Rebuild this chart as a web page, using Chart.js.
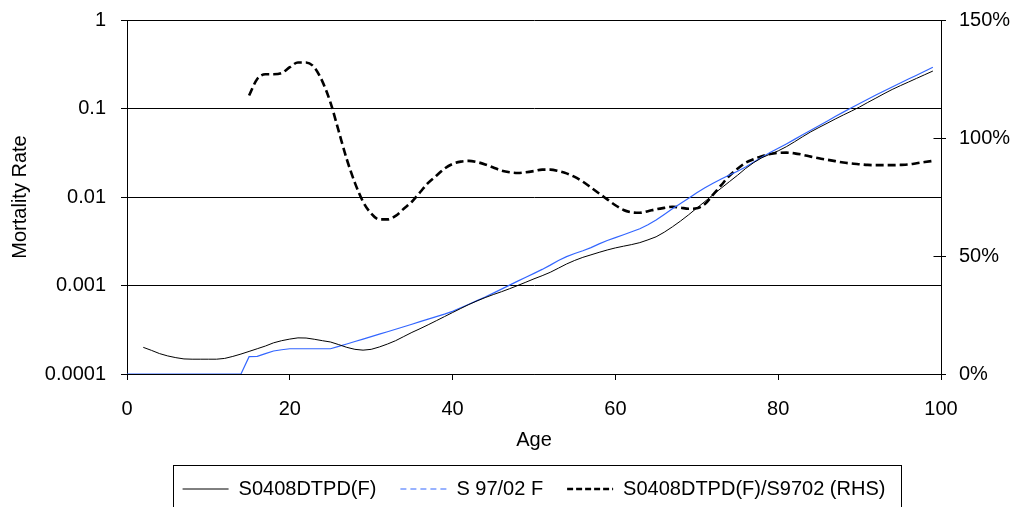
<!DOCTYPE html>
<html>
<head>
<meta charset="utf-8">
<script src="https://cdn.jsdelivr.net/npm/chart.js@4"></script>
<style>
  html, body { margin: 0; padding: 0; background: #fff; }
  #wrap { width: 1019px; height: 507px; overflow: hidden; }
</style>
</head>
<body>
<div id="wrap"><canvas id="mortalityChart" width="1019" height="507"></canvas></div>
<script>
// ages on the x axis
const ages = [
  0, 1, 2, 3, 4, 5, 6, 7, 8, 9, 10, 11, 12, 13, 14, 15, 16, 17, 18, 19,
  20, 21, 22, 23, 24, 25, 26, 27, 28, 29, 30, 31, 32, 33, 34, 35, 36, 37, 38, 39,
  40, 41, 42, 43, 44, 45, 46, 47, 48, 49, 50, 51, 52, 53, 54, 55, 56, 57, 58, 59,
  60, 61, 62, 63, 64, 65, 66, 67, 68, 69, 70, 71, 72, 73, 74, 75, 76, 77, 78, 79,
  80, 81, 82, 83, 84, 85, 86, 87, 88, 89, 90, 91, 92, 93, 94, 95, 96, 97, 98, 99
];

// S0408DTPD(F) mortality rate (left axis)
const dtpdRates = [
  null, null, 2.0e-4, 1.85e-4, 1.7e-4, 1.6e-4, 1.53e-4, 1.48e-4, 1.47e-4, 1.47e-4,
  1.47e-4, 1.47e-4, 1.5e-4, 1.58e-4, 1.68e-4, 1.8e-4, 1.93e-4, 2.07e-4, 2.25e-4, 2.38e-4,
  2.48e-4, 2.56e-4, 2.55e-4, 2.47e-4, 2.38e-4, 2.3e-4, 2.15e-4, 2.0e-4, 1.9e-4, 1.86e-4,
  1.9e-4, 2.02e-4, 2.18e-4, 2.38e-4, 2.65e-4, 2.95e-4, 3.25e-4, 3.6e-4, 4.0e-4, 4.45e-4,
  4.95e-4, 5.5e-4, 6.1e-4, 6.7e-4, 7.3e-4, 7.9e-4, 8.5e-4, 9.2e-4, 1.0e-3, 1.09e-3,
  1.19e-3, 1.29e-3, 1.41e-3, 1.57e-3, 1.75e-3, 1.92e-3, 2.08e-3, 2.22e-3, 2.37e-3, 2.52e-3,
  2.66e-3, 2.78e-3, 2.9e-3, 3.05e-3, 3.28e-3, 3.55e-3, 4.0e-3, 4.6e-3, 5.35e-3, 6.3e-3,
  7.5e-3, 8.9e-3, 1.06e-2, 1.26e-2, 1.49e-2, 1.76e-2, 2.1e-2, 2.45e-2, 2.78e-2, 3.05e-2,
  3.32e-2, 3.7e-2, 4.2e-2, 4.8e-2, 5.45e-2, 6.1e-2, 6.8e-2, 7.6e-2, 8.45e-2, 9.35e-2,
  0.104, 0.117, 0.131, 0.147, 0.164, 0.181, 0.199, 0.219, 0.241, 0.265
];

// S 97/02 F mortality rate (left axis)
const s9702Rates = [
  1e-4, 1e-4, 1e-4, 1e-4, 1e-4, 1e-4, 1e-4, 1e-4, 1e-4, 1e-4,
  1e-4, 1e-4, 1e-4, 1e-4, 1e-4, 1.57e-4, 1.58e-4, 1.7e-4, 1.82e-4, 1.88e-4,
  1.93e-4, 1.93e-4, 1.93e-4, 1.93e-4, 1.93e-4, 1.93e-4, 2.05e-4, 2.18e-4, 2.33e-4, 2.48e-4,
  2.64e-4, 2.82e-4, 3.0e-4, 3.2e-4, 3.42e-4, 3.65e-4, 3.9e-4, 4.17e-4, 4.45e-4, 4.75e-4,
  5.1e-4, 5.6e-4, 6.15e-4, 6.75e-4, 7.4e-4, 8.2e-4, 9.1e-4, 1.01e-3, 1.12e-3, 1.24e-3,
  1.37e-3, 1.52e-3, 1.7e-3, 1.92e-3, 2.12e-3, 2.3e-3, 2.47e-3, 2.68e-3, 2.95e-3, 3.22e-3,
  3.48e-3, 3.75e-3, 4.05e-3, 4.38e-3, 4.85e-3, 5.5e-3, 6.35e-3, 7.35e-3, 8.45e-3, 9.7e-3,
  1.12e-2, 1.27e-2, 1.43e-2, 1.6e-2, 1.77e-2, 1.95e-2, 2.18e-2, 2.48e-2, 2.82e-2, 3.18e-2,
  3.55e-2, 3.98e-2, 4.48e-2, 5.05e-2, 5.68e-2, 6.38e-2, 7.18e-2, 8.1e-2, 9.1e-2, 0.102,
  0.114, 0.127, 0.142, 0.158, 0.175, 0.194, 0.215, 0.238, 0.264, 0.293
];

// S0408DTPD(F)/S9702 ratio in % (right axis)
const ratioPct = [
  null, null, null, null, null, null, null, null, null, null,
  null, null, null, null, null, 118, 125, 127, 127, 127.5,
  130, 132, 132, 130, 124, 115, 103, 91, 81, 73,
  68, 65.5, 65.5, 67, 70, 73, 77, 81, 84, 87,
  89, 90, 90.3, 89.8, 88.8, 87.5, 86.2, 85.5, 85.2, 85.5,
  86, 86.6, 86.6, 86, 85, 83.5, 81.5, 79, 76.5, 74,
  71.5, 69.5, 68.5, 68.3, 69, 69.8, 70.4, 70.9, 70.5, 70,
  70.2, 72, 76, 80, 84, 87, 89.5, 91, 92.3, 93.2,
  93.7, 93.8, 93.5, 92.9, 92.1, 91.4, 90.8, 90.2, 89.6, 89.2,
  88.9, 88.6, 88.5, 88.5, 88.5, 88.6, 88.8, 89.3, 89.8, 90.3
];

const leftTicks = [0.0001, 0.001, 0.01, 0.1, 1];
const rightTicks = [0, 50, 100, 150];
const ageTicks = [0, 20, 40, 60, 80, 100];

const seriesNames = ['S0408DTPD(F)', 'S 97/02 F', 'S0408DTPD(F)/S9702 (RHS)'];

function toPoints(values) {
  return ages.map((a, i) => ({ x: a, y: values[i] }));
}

Chart.defaults.font.family = "'Liberation Sans', Arial, sans-serif";
Chart.defaults.font.size = 20;
Chart.defaults.color = '#000';

// box drawn round the legend items, like the original
const legendFrame = {
  id: 'legendFrame',
  afterDraw(chart) {
    const boxes = chart.legend && chart.legend.legendHitBoxes;
    if (!boxes || !boxes.length) return;
    const left = Math.min(...boxes.map(b => b.left)) - 10;
    const right = Math.max(...boxes.map(b => b.left + b.width)) + 15;
    const top = boxes[0].top - 14;
    const ctx = chart.ctx;
    ctx.save();
    ctx.strokeStyle = '#000';
    ctx.lineWidth = 1;
    ctx.strokeRect(Math.round(left) + 0.5, Math.round(top) + 0.5, Math.round(right - left), chart.height);
    ctx.restore();
  }
};

// right axis tick marks cross the axis line (inner part)
const crossTicks = {
  id: 'crossTicks',
  afterDraw(chart) {
    const s = chart.scales.y1;
    const ctx = chart.ctx;
    const x = Math.round(s.left) + 0.5;
    ctx.save();
    ctx.strokeStyle = '#000';
    ctx.lineWidth = 1;
    ctx.beginPath();
    rightTicks.forEach(v => {
      const y = Math.round(s.getPixelForValue(v)) + 0.5;
      ctx.moveTo(x - 8, y);
      ctx.lineTo(x, y);
    });
    ctx.stroke();
    ctx.restore();
  }
};

// keep tick label overflow from pushing the plot area around
function noOverflow(s) {
  s.paddingTop = 0;
  s.paddingBottom = 0;
}

const ctx = document.getElementById('mortalityChart').getContext('2d');

new Chart(ctx, {
  type: 'line',
  data: {
    datasets: [
      {
        label: seriesNames[0],
        data: toPoints(dtpdRates),
        yAxisID: 'y',
        borderColor: '#000',
        borderWidth: 1,
        pointRadius: 0,
        tension: 0,
        spanGaps: false
      },
      {
        label: seriesNames[1],
        data: toPoints(s9702Rates),
        yAxisID: 'y',
        borderColor: '#3366ff',
        borderWidth: 1.2,
        pointRadius: 0,
        tension: 0
      },
      {
        label: seriesNames[2],
        data: toPoints(ratioPct),
        yAxisID: 'y1',
        borderColor: '#000',
        borderWidth: 2.6,
        borderDash: [8, 4],
        pointRadius: 0,
        cubicInterpolationMode: 'monotone',
        spanGaps: false
      }
    ]
  },
  options: {
    responsive: false,
    animation: false,
    layout: { padding: { top: 20, left: 0, right: 0, bottom: -2 } },
    plugins: {
      tooltip: { enabled: false },
      legend: {
        position: 'bottom',
        fullSize: false,
        labels: {
          usePointStyle: true,
          pointStyle: 'line',
          pointStyleWidth: 46,
          padding: 24,
          font: { size: 20 },
          generateLabels(chart) {
            const items = Chart.defaults.plugins.legend.labels.generateLabels(chart);
            items.forEach((it, i) => {
              it.pointStyle = 'line';
              it.fillStyle = 'transparent';
              if (i === 1) it.lineDash = [6, 4];
              if (i === 2) it.lineDash = [6, 3];
            });
            return items;
          }
        }
      }
    },
    scales: {
      x: {
        type: 'linear',
        min: 0,
        max: 100,
        afterBuildTicks: (s) => { s.ticks = ageTicks.map(v => ({ value: v })); },
        afterFit: (s) => { s.height = 81; s.paddingLeft = 0; s.paddingRight = 0; },
        grid: { drawOnChartArea: false, color: '#000', tickLength: 6 },
        border: { color: '#000', width: 1 },
        ticks: { padding: 17, font: { size: 20 } },
        title: { display: true, text: 'Age', font: { size: 20 }, padding: { top: 0, bottom: 3 } }
      },
      y: {
        type: 'logarithmic',
        position: 'left',
        min: 0.0001,
        max: 1,
        afterBuildTicks: (s) => { s.ticks = leftTicks.map(v => ({ value: v })); },
        afterFit: (s) => { s.width = 127; noOverflow(s); },
        grid: { color: '#000', lineWidth: 1, tickLength: 6 },
        border: { color: '#000', width: 1 },
        ticks: { padding: 15, font: { size: 20 }, callback: (v) => String(v) },
        title: { display: true, text: 'Mortality Rate', font: { size: 20 }, padding: { top: 8, bottom: 0 } }
      },
      y1: {
        type: 'linear',
        position: 'right',
        min: 0,
        max: 150,
        afterBuildTicks: (s) => { s.ticks = rightTicks.map(v => ({ value: v })); },
        afterFit: (s) => { s.width = 78; noOverflow(s); },
        grid: { drawOnChartArea: false, color: '#000', tickLength: 5 },
        border: { color: '#000', width: 1 },
        ticks: { padding: 13, font: { size: 20 }, callback: (v) => v + '%' }
      }
    }
  },
  plugins: [legendFrame, crossTicks]
});
</script>
</body>
</html>
